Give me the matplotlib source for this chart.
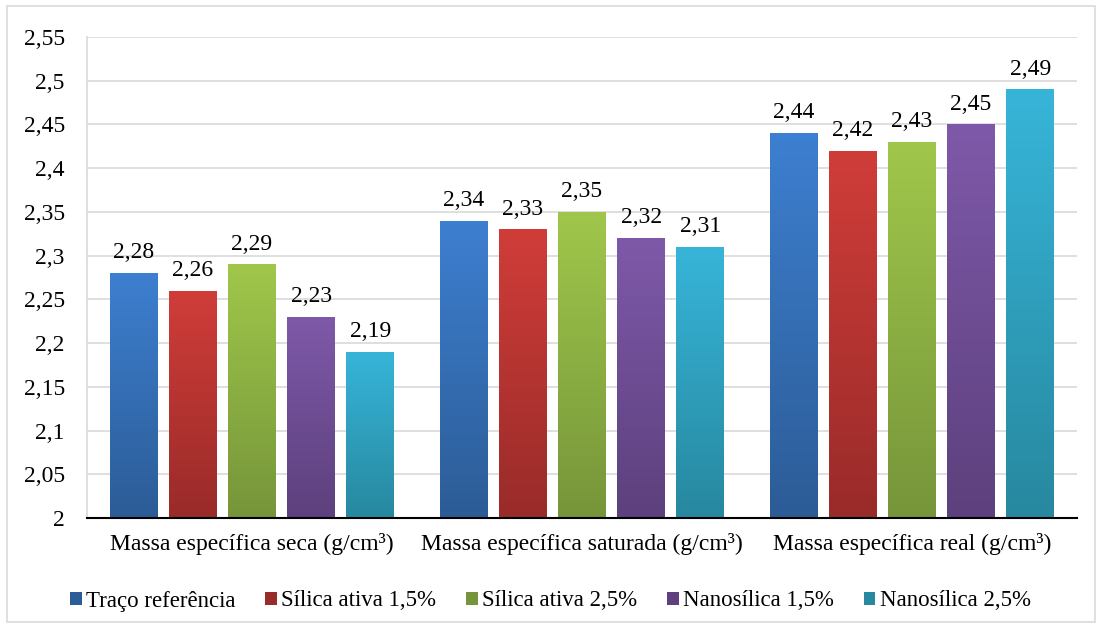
import matplotlib.pyplot as plt
import numpy as np
from matplotlib.patches import Rectangle
from matplotlib.colors import LinearSegmentedColormap

categories = ['Massa específica seca (g/cm³)', 'Massa específica saturada (g/cm³)',
              'Massa específica real (g/cm³)']
series = ['Traço referência', 'Sílica ativa 1,5%', 'Sílica ativa 2,5%',
          'Nanosílica 1,5%', 'Nanosílica 2,5%']
values = [
    [2.28, 2.34, 2.44],
    [2.26, 2.33, 2.42],
    [2.29, 2.35, 2.43],
    [2.23, 2.32, 2.45],
    [2.19, 2.31, 2.49],
]
top_colors = ['#3D7FD0', '#D03D39', '#A0C74B', '#7E59A9', '#37B5D9']
bottom_colors = ['#2C5C96', '#992B29', '#76953A', '#5D407D', '#27889F']

plt.rcParams['font.family'] = ['Liberation Serif', 'DejaVu Serif']

fig = plt.figure(figsize=(11.01, 6.28), dpi=100)
fig.patches.append(Rectangle((7 / 1101, 6 / 628), 1088 / 1101, 616 / 628, transform=fig.transFigure,
                             fill=False, edgecolor='#D9D9D9', linewidth=1.2))
ax = fig.add_axes([87 / 1101, 110 / 628, 990 / 1101, 481 / 628])

ymin, ymax = 2.0, 2.55
step = 0.179
width = 0.145
x = np.arange(len(categories))
grad = np.linspace(1, 0, 256).reshape(-1, 1)

for i, name in enumerate(series):
    pos = x + (i - 2) * step
    bars = ax.bar(pos, values[i], width=width, bottom=0, color=top_colors[i], label=name, zorder=2)
    cmap = LinearSegmentedColormap.from_list('g%d' % i, [bottom_colors[i], top_colors[i]])
    for b, v in zip(bars, values[i]):
        im = ax.imshow(grad, extent=[b.get_x(), b.get_x() + width, ymin, v], aspect='auto',
                       cmap=cmap, vmin=0, vmax=1, origin='upper', zorder=3)
        im.set_clip_path(b)
        ax.annotate(('%.2f' % v).replace('.', ','), (b.get_x() + width / 2, v),
                    xytext=(0, 7), textcoords='offset points',
                    ha='center', va='bottom', fontsize=17, zorder=4)

ax.set_xlim(-0.5, 2.5)
ax.set_ylim(ymin, ymax)
ticks = np.arange(2.0, 2.5501, 0.05)
ax.set_yticks(ticks)
ax.set_yticklabels([('%g' % round(t, 2)).replace('.', ',') for t in ticks], fontsize=17)
ax.set_xticks(x)
ax.set_xticklabels(categories, fontsize=17)
ax.tick_params(axis='y', length=0, pad=16)
ax.tick_params(axis='x', length=0, pad=11)
ax.grid(axis='y', color='#D9D9D9', linewidth=1.2, zorder=0)
ax.set_axisbelow(True)
for s in ['top', 'right']:
    ax.spines[s].set_visible(False)
ax.spines['left'].set_color('#D9D9D9')
ax.spines['left'].set_linewidth(1.2)
ax.spines['bottom'].set_color('black')
ax.spines['bottom'].set_linewidth(1.5)
ax.spines['bottom'].set_zorder(5)

handles = [Rectangle((0, 0), 1, 1, facecolor=c) for c in bottom_colors]
fig.legend(handles, series, loc='center', bbox_to_anchor=(0.5, 1 - 601 / 628), ncol=5,
           frameon=False, fontsize=16.5, handlelength=0.5, handleheight=0.5,
           handletextpad=0.2, columnspacing=1.3)

fig.savefig('out.png', dpi=100)
